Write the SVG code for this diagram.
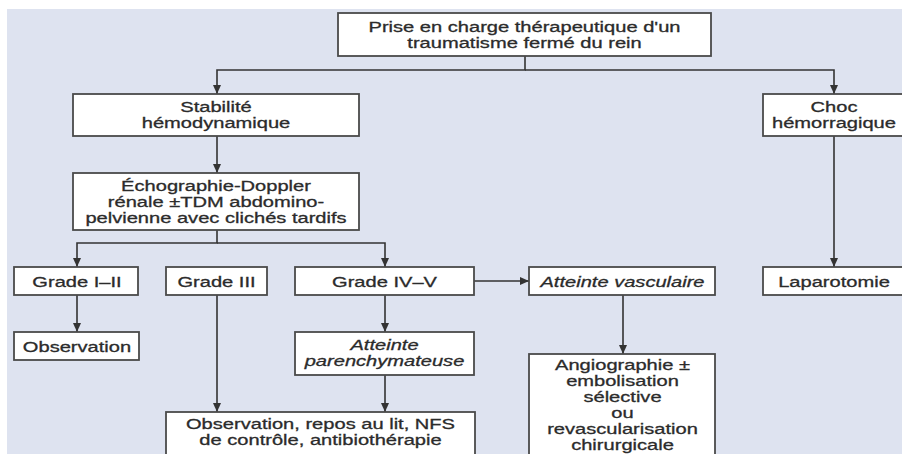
<svg xmlns="http://www.w3.org/2000/svg" width="902" height="454" viewBox="0 0 902 454">
  <defs>
    <style>
      .box { fill: #ffffff; stroke: #4a4a4a; stroke-width: 1.8; }
      .lbl { font-family: "Liberation Sans", Arial, sans-serif; font-size: 15px; fill: #2b2b2b; stroke: #2b2b2b; stroke-width: 0.3; text-anchor: middle; }
      .it { font-style: italic; }
      .conn { fill: none; stroke: #333333; stroke-width: 1.6; }
    </style>
    <marker id="arrow" markerUnits="userSpaceOnUse" markerWidth="9" markerHeight="8" refX="9" refY="4" orient="auto">
      <path d="M0,0 L9,4 L0,8 z" fill="#333333"/>
    </marker>
  </defs>

  <!-- page -->
  <rect x="0" y="0" width="902" height="454" fill="#ffffff"/>
  <rect x="7" y="9" width="895" height="445" fill="#dee3f0"/>

  <!-- connectors -->
  <g id="connectors" class="conn">
    <path d="M525,56 V70 H217 V94" marker-end="url(#arrow)"/>
    <path d="M525,70 H834 V94" marker-end="url(#arrow)"/>
    <path d="M217,136 V173" marker-end="url(#arrow)"/>
    <path d="M217,230 V243 H77 V267" marker-end="url(#arrow)"/>
    <path d="M217,243 H385 V267" marker-end="url(#arrow)"/>
    <path d="M77,295 V332" marker-end="url(#arrow)"/>
    <path d="M217,295 V412" marker-end="url(#arrow)"/>
    <path d="M385,295 V332" marker-end="url(#arrow)"/>
    <path d="M385,375 V412" marker-end="url(#arrow)"/>
    <path d="M474,281 H529" marker-end="url(#arrow)"/>
    <path d="M623,295 V354" marker-end="url(#arrow)"/>
    <path d="M834,136 V267" marker-end="url(#arrow)"/>
  </g>

  <!-- nodes -->
  <g id="node-prise-en-charge">
    <rect class="box" x="338" y="13" width="373" height="43"/>
    <text class="lbl" transform="translate(524.5,32) scale(1.34,1)">Prise en charge thérapeutique d'un</text>
    <text class="lbl" transform="translate(524.5,48) scale(1.34,1)">traumatisme fermé du rein</text>
  </g>

  <g id="node-stabilite">
    <rect class="box" x="73" y="94" width="286" height="42"/>
    <text class="lbl" transform="translate(216,112) scale(1.34,1)">Stabilité</text>
    <text class="lbl" transform="translate(216,128) scale(1.34,1)">hémodynamique</text>
  </g>

  <g id="node-choc">
    <rect class="box" x="763" y="94" width="142" height="42"/>
    <text class="lbl" transform="translate(834,112) scale(1.34,1)">Choc</text>
    <text class="lbl" transform="translate(834,128) scale(1.34,1)">hémorragique</text>
  </g>

  <g id="node-echographie">
    <rect class="box" x="73" y="173" width="286" height="57"/>
    <text class="lbl" transform="translate(216,191) scale(1.34,1)">Échographie-Doppler</text>
    <text class="lbl" transform="translate(216,207) scale(1.34,1)">rénale ±TDM abdomino-</text>
    <text class="lbl" transform="translate(216,223) scale(1.34,1)">pelvienne avec clichés tardifs</text>
  </g>

  <g id="node-grade-1-2">
    <rect class="box" x="14" y="267" width="124" height="28"/>
    <text class="lbl" transform="translate(77,287) scale(1.34,1)">Grade I–II</text>
  </g>

  <g id="node-grade-3">
    <rect class="box" x="166" y="267" width="101" height="28"/>
    <text class="lbl" transform="translate(216.5,287) scale(1.34,1)">Grade III</text>
  </g>

  <g id="node-grade-4-5">
    <rect class="box" x="295" y="267" width="179" height="28"/>
    <text class="lbl" transform="translate(384.5,287) scale(1.34,1)">Grade IV–V</text>
  </g>

  <g id="node-atteinte-vasculaire">
    <rect class="box" x="529" y="267" width="186" height="28"/>
    <text class="lbl it" transform="translate(622.5,287) scale(1.34,1)">Atteinte vasculaire</text>
  </g>

  <g id="node-laparotomie">
    <rect class="box" x="763" y="267" width="142" height="28"/>
    <text class="lbl" transform="translate(834,287) scale(1.34,1)">Laparotomie</text>
  </g>

  <g id="node-observation">
    <rect class="box" x="14" y="332" width="125" height="28"/>
    <text class="lbl" transform="translate(77,352) scale(1.34,1)">Observation</text>
  </g>

  <g id="node-atteinte-parenchymateuse">
    <rect class="box" x="295" y="332" width="179" height="43"/>
    <text class="lbl it" transform="translate(384.5,350) scale(1.34,1)">Atteinte</text>
    <text class="lbl it" transform="translate(384.5,366) scale(1.34,1)">parenchymateuse</text>
  </g>

  <g id="node-angiographie">
    <rect class="box" x="529" y="354" width="186" height="110"/>
    <text class="lbl" transform="translate(622.5,370) scale(1.34,1)">Angiographie ±</text>
    <text class="lbl" transform="translate(622.5,386) scale(1.34,1)">embolisation</text>
    <text class="lbl" transform="translate(622.5,402) scale(1.34,1)">sélective</text>
    <text class="lbl" transform="translate(622.5,418) scale(1.34,1)">ou</text>
    <text class="lbl" transform="translate(622.5,434) scale(1.34,1)">revascularisation</text>
    <text class="lbl" transform="translate(622.5,450) scale(1.34,1)">chirurgicale</text>
  </g>

  <g id="node-observation-repos">
    <rect class="box" x="166" y="412" width="309" height="52"/>
    <text class="lbl" transform="translate(320.5,429) scale(1.34,1)">Observation, repos au lit, NFS</text>
    <text class="lbl" transform="translate(320.5,445) scale(1.34,1)">de contrôle, antibiothérapie</text>
  </g>
</svg>
